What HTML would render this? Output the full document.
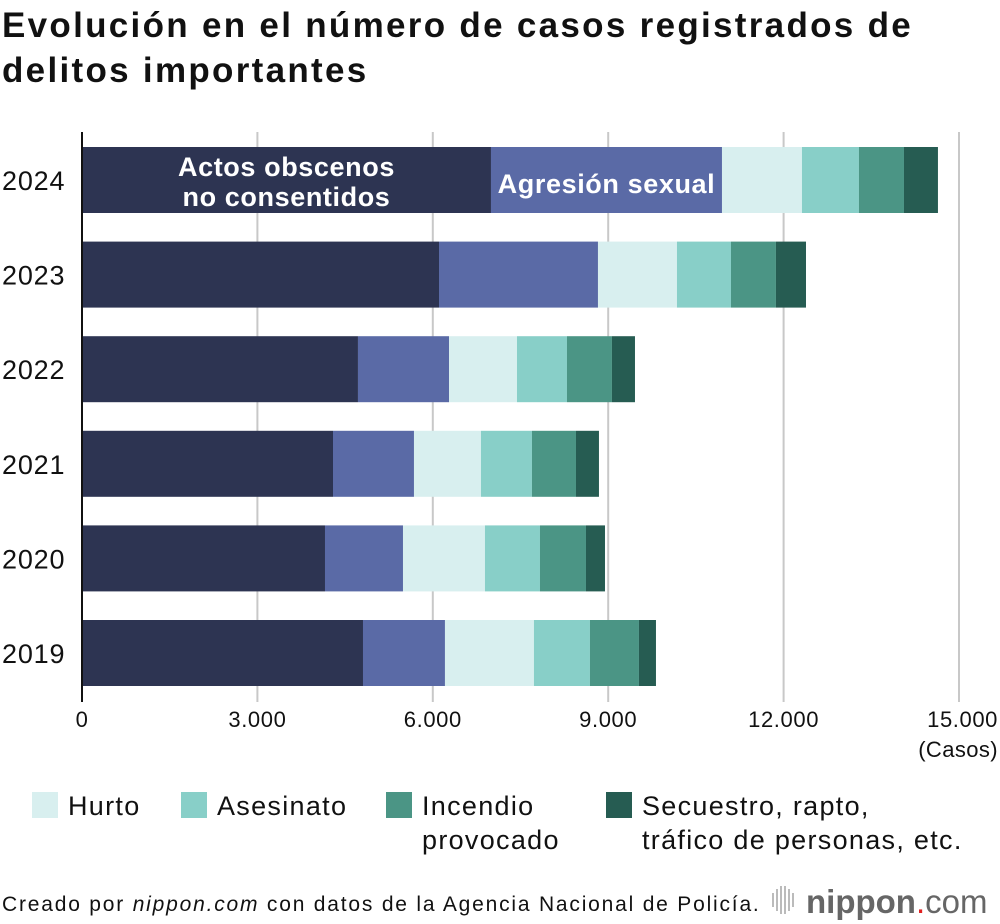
<!DOCTYPE html>
<html><head><meta charset="utf-8"><style>
body{margin:0;width:1000px;height:924px;background:#fff;font-family:"Liberation Sans",sans-serif;overflow:hidden;position:relative}
.t{position:absolute;left:2px;top:3px;font-size:35px;font-weight:bold;line-height:45px;color:#111;letter-spacing:2.3px}
svg{position:absolute;left:0;top:0}
</style></head><body>
<div class="t">Evolución en el número de casos registrados de<br>delitos importantes</div>
<svg id="c" width="1000" height="924"></svg>
<script>
const years=["2024","2023","2022","2021","2020","2019"];
const obscenos=[6995,6106,4720,4293,4156,4806];
const agresion=[3951,2719,1557,1385,1334,1402];
const hurto=[1368,1351,1163,1146,1402,1522];
const asesinato=[975,924,855,872,941,958];
const incendio=[770,769,769,753,787,838];
const secuestro=[581,514,394,393,325,291];
const ticks=[0,3000,6000,9000,12000,15000];
const tickLabels=["0","3.000","6.000","9.000","12.000","15.000"];
const series=[obscenos,agresion,hurto,asesinato,incendio,secuestro];
const names=["obscenos","agresion","hurto","asesinato","incendio","secuestro"];
const colors=["#2d3452","#5a6aa6","#d8efef","#88cfc8","#4b9585","#265c52"];
const svg=document.getElementById('c');const NS="http://www.w3.org/2000/svg";
const x=v=>82+v*877/15000;
const yTop=i=>147+i*94.6;
function mk(tag,attrs,txt){const e=document.createElementNS(NS,tag);for(const k in attrs)e.setAttribute(k,attrs[k]);if(txt!==undefined)e.textContent=txt;svg.appendChild(e);return e;}
ticks.forEach((t,i)=>{
 if(i>0){const l=mk('line',{x1:x(t),x2:x(t),y1:132,y2:702,stroke:'#c8c8c8','stroke-width':2});
 
 }
 const tx=mk('text',{x:x(t),y:727,'font-size':22,'letter-spacing':0.6,'text-anchor':i==5?'end':'middle',fill:'#111'},tickLabels[i]);
 if(i==5)tx.setAttribute('x',998);
 
 
});
const u=mk('text',{x:998,y:757,'font-size':22,'letter-spacing':0.4,'text-anchor':'end',fill:'#111'},'(Casos)');


years.forEach((yr,i)=>{
 let acc=0;const y0=yTop(i);
 series.forEach((s,j)=>{
  const r=mk('rect',{x:x(acc),y:y0,width:x(acc+s[i])-x(acc),height:66,fill:colors[j]});
  
  
  acc+=s[i];
 });
 const yl=mk('text',{x:2,y:y0+43,'font-size':27,'letter-spacing':0.8,fill:'#111'},yr);
 
 
});
const ax=mk('line',{x1:82,x2:82,y1:132,y2:702,stroke:'#111','stroke-width':2});


const a1=mk('text',{x:x(obscenos[0]/2),y:176,'font-size':27,'letter-spacing':0.6,'font-weight':'bold','text-anchor':'middle',fill:'#fff'},'Actos obscenos');


const a2=mk('text',{x:x(obscenos[0]/2),y:206,'font-size':27,'letter-spacing':0.6,'font-weight':'bold','text-anchor':'middle',fill:'#fff'},'no consentidos');


const a3=mk('text',{x:x(obscenos[0]+agresion[0]/2),y:193,'font-size':27,'letter-spacing':0.6,'font-weight':'bold','text-anchor':'middle',fill:'#fff'},'Agresión sexual');


const leg=[[32,"Hurto",colors[2]],[181,"Asesinato",colors[3]],[386,"Incendio",colors[4],"provocado"],[606,"Secuestro, rapto,",colors[5],"tráfico de personas, etc."]];
leg.forEach(l=>{
 const r=mk('rect',{x:l[0],y:792,width:26,height:26,fill:l[2]});
 
 
 const t=mk('text',{x:l[0]+36,y:815,'font-size':27,'letter-spacing':1.3,fill:'#111'},l[1]);
 
 
 if(l[3]){const t2=mk('text',{x:l[0]+36,y:849,'font-size':27,'letter-spacing':1.3,fill:'#111'},l[3]);
 
 }
});
const f=mk('text',{x:2,y:911,'font-size':21,'letter-spacing':1.8,fill:'#111'});
f.innerHTML='Creado por <tspan font-style="italic">nippon.com</tspan> con datos de la Agencia Nacional de Policía.';


for(let k=0;k<6;k++){const b=mk('rect',{x:772+k*4,y:[893,889,886,886,889,893][k],width:2,height:[14,22,28,28,22,14][k],fill:'#bbb'});
 
 }
const lg=mk('text',{x:806,y:913,'font-size':33,fill:'#666'});
lg.innerHTML='<tspan font-weight="bold">nippon</tspan><tspan fill="#e02020">.</tspan>com';


</script>
</body></html>
